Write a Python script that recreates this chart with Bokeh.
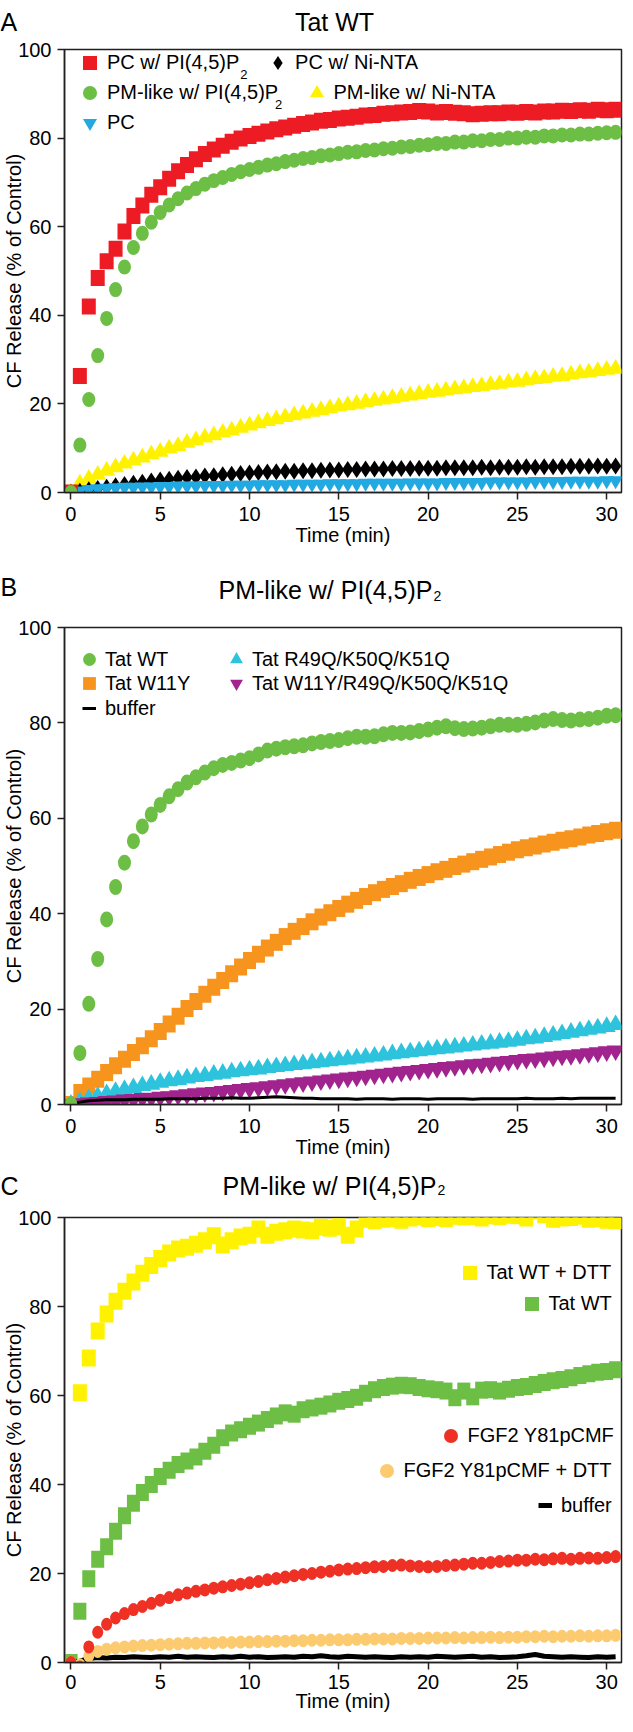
import math
from bokeh.plotting import figure
from bokeh.layouts import column
from bokeh.models import Range1d, FixedTicker, Label, Legend, LegendItem
from bokeh.core.properties import value
from bokeh.embed import file_html
from bokeh.resources import INLINE

# ---------------- data ----------------
time_min = [0.0, 0.5, 1.0, 1.5, 2.0, 2.5, 3.0, 3.5, 4.0, 4.5,
            5.0, 5.5, 6.0, 6.5, 7.0, 7.5, 8.0, 8.5, 9.0, 9.5,
            10.0, 10.5, 11.0, 11.5, 12.0, 12.5, 13.0, 13.5, 14.0, 14.5,
            15.0, 15.5, 16.0, 16.5, 17.0, 17.5, 18.0, 18.5, 19.0, 19.5,
            20.0, 20.5, 21.0, 21.5, 22.0, 22.5, 23.0, 23.5, 24.0, 24.5,
            25.0, 25.5, 26.0, 26.5, 27.0, 27.5, 28.0, 28.5, 29.0, 29.5,
            30.0, 30.5]

# Panel A: Tat WT
a_pc_pip2 = [0, 26.3, 42.0, 48.4, 52.2, 55.0, 58.9, 62.4, 64.8, 67.2,
             68.9, 70.8, 72.5, 73.9, 75.2, 76.4, 77.4, 78.3, 79.2, 79.9,
             80.5, 81.0, 81.5, 82.0, 82.4, 82.8, 83.2, 83.5, 83.9, 84.1,
             84.4, 84.6, 84.8, 85.1, 85.2, 85.5, 85.6, 85.8, 85.9, 86.1,
             86.0, 85.8, 85.9, 85.7, 85.6, 85.4, 85.5, 85.6, 85.6, 85.8,
             85.7, 85.9, 85.8, 86.0, 86.0, 86.2, 86.1, 86.3, 86.2, 86.4,
             86.3, 86.4]
a_pm_pip2 = [0, 10.7, 21.0, 30.9, 39.3, 45.8, 50.9, 55.3, 58.5, 61.0,
             63.2, 64.9, 66.3, 67.6, 68.6, 69.6, 70.4, 71.1, 71.8, 72.4,
             72.9, 73.4, 73.9, 74.2, 74.7, 75.0, 75.4, 75.6, 76.0, 76.2,
             76.5, 76.8, 76.9, 77.2, 77.3, 77.6, 77.7, 78.0, 78.1, 78.4,
             78.5, 78.8, 78.8, 79.1, 79.1, 79.4, 79.4, 79.7, 79.7, 80.0,
             80.0, 80.2, 80.2, 80.5, 80.5, 80.7, 80.7, 80.9, 80.9, 81.1,
             81.2, 81.3]
a_pm_ninta = [0, 2.0, 3.1, 4.0, 4.9, 5.7, 6.5, 7.2, 7.9, 8.6,
              9.2, 9.9, 10.5, 11.2, 11.8, 12.4, 12.9, 13.5, 14.0, 14.6,
              15.1, 15.6, 16.1, 16.5, 17.0, 17.4, 17.8, 18.2, 18.6, 19.0,
              19.4, 19.7, 20.0, 20.4, 20.7, 21.0, 21.3, 21.6, 21.9, 22.2,
              22.5, 22.7, 23.0, 23.3, 23.5, 23.8, 24.0, 24.3, 24.5, 24.8,
              25.0, 25.3, 25.6, 25.8, 26.1, 26.3, 26.6, 26.9, 27.1, 27.4,
              27.7, 27.9]
a_pc_ninta = [0, 0.3, 0.6, 0.9, 1.2, 1.5, 1.8, 2.1, 2.3, 2.6,
              2.8, 3.0, 3.2, 3.4, 3.5, 3.7, 3.8, 4.0, 4.1, 4.3,
              4.4, 4.5, 4.6, 4.7, 4.8, 4.8, 4.9, 4.9, 5.0, 5.1,
              5.1, 5.2, 5.2, 5.3, 5.3, 5.3, 5.4, 5.4, 5.4, 5.5,
              5.5, 5.5, 5.6, 5.6, 5.6, 5.6, 5.7, 5.6, 5.7, 5.7,
              5.7, 5.8, 5.7, 5.8, 5.8, 5.8, 5.9, 5.9, 5.9, 6.0,
              5.9, 6.0]
a_pc = [0, 0.4, 0.7, 0.9, 1.0, 1.1, 1.2, 1.2, 1.3, 1.3,
        1.4, 1.4, 1.5, 1.5, 1.5, 1.6, 1.6, 1.6, 1.7, 1.7,
        1.7, 1.8, 1.8, 1.8, 1.8, 1.9, 1.9, 1.9, 1.9, 2.0,
        2.0, 2.0, 2.0, 2.1, 2.1, 2.1, 2.1, 2.1, 2.2, 2.2,
        2.2, 2.2, 2.3, 2.3, 2.3, 2.3, 2.3, 2.4, 2.4, 2.4,
        2.4, 2.4, 2.5, 2.5, 2.5, 2.5, 2.6, 2.6, 2.6, 2.6,
        2.7, 2.7]

# Panel B: PM-like w/ PI(4,5)P2
b_wt = [0, 10.8, 21.1, 30.5, 38.8, 45.6, 50.7, 55.2, 58.3, 60.8,
        62.8, 64.6, 66.1, 67.5, 68.6, 69.6, 70.5, 71.2, 71.6, 72.1,
        72.6, 73.4, 74.2, 74.6, 74.9, 75.1, 75.3, 75.7, 76.0, 76.2,
        76.4, 76.8, 77.1, 77.1, 77.2, 77.6, 77.9, 77.9, 78.0, 78.3,
        78.6, 79.0, 79.3, 78.9, 78.7, 78.8, 79.0, 79.3, 79.6, 79.6,
        79.6, 79.8, 80.1, 80.5, 80.8, 80.6, 80.5, 80.7, 80.8, 81.1,
        81.5, 81.6]
b_w11y = [0, 2.5, 3.9, 5.3, 6.7, 8.1, 9.5, 10.9, 12.3, 13.8,
          15.3, 16.9, 18.5, 20.1, 21.6, 23.1, 24.6, 26.0, 27.4, 28.8,
          30.2, 31.5, 32.8, 34.0, 35.2, 36.3, 37.3, 38.3, 39.3, 40.2,
          41.1, 42.0, 42.8, 43.6, 44.4, 45.1, 45.7, 46.3, 47.0, 47.6,
          48.2, 48.8, 49.3, 49.9, 50.4, 50.9, 51.4, 51.9, 52.4, 52.9,
          53.4, 53.8, 54.2, 54.6, 55.0, 55.4, 55.7, 56.1, 56.5, 56.8,
          57.2, 57.5]
b_rkk = [0, 0.6, 1.2, 1.7, 2.2, 2.7, 3.1, 3.5, 3.9, 4.2,
         4.6, 4.9, 5.2, 5.5, 5.8, 6.0, 6.3, 6.5, 6.8, 7.0,
         7.2, 7.4, 7.7, 7.9, 8.1, 8.3, 8.5, 8.7, 8.9, 9.1,
         9.3, 9.5, 9.7, 9.9, 10.1, 10.3, 10.6, 10.8, 11.0, 11.2,
         11.4, 11.6, 11.8, 12.0, 12.2, 12.4, 12.6, 12.8, 13.0, 13.2,
         13.4, 13.7, 13.9, 14.2, 14.5, 14.8, 15.1, 15.4, 15.7, 16.0,
         16.3, 16.7]
b_w11y_rkk = [0, 0.2, 0.4, 0.5, 0.7, 0.8, 1.0, 1.1, 1.3, 1.4,
              1.6, 1.7, 1.9, 2.1, 2.3, 2.5, 2.6, 2.8, 3.0, 3.2,
              3.4, 3.6, 3.8, 4.0, 4.2, 4.4, 4.6, 4.8, 5.0, 5.2,
              5.4, 5.6, 5.8, 6.0, 6.2, 6.4, 6.6, 6.8, 7.0, 7.2,
              7.4, 7.6, 7.8, 8.0, 8.2, 8.4, 8.5, 8.7, 8.9, 9.1,
              9.3, 9.5, 9.6, 9.8, 10.0, 10.2, 10.3, 10.5, 10.7, 10.9,
              11.1, 11.3]
b_buffer = [0, 0.5, 0.8, 0.9, 1.0, 1.0, 1.0, 1.1, 1.1, 1.1,
            1.1, 1.2, 1.2, 1.2, 1.2, 1.3, 1.3, 1.3, 1.4, 1.3,
            1.3, 1.4, 1.5, 1.6, 1.5, 1.4, 1.3, 1.3, 1.2, 1.2,
            1.2, 1.2, 1.1, 1.2, 1.2, 1.2, 1.1, 1.2, 1.2, 1.2,
            1.1, 1.2, 1.2, 1.2, 1.2, 1.1, 1.2, 1.2, 1.2, 1.2,
            1.2, 1.3, 1.2, 1.2, 1.2, 1.3, 1.2, 1.3, 1.3, 1.3,
            1.3, 1.3]

# Panel C: PM-like w/ PI(4,5)P2
c_wt_dtt = [0, 60.6, 68.4, 74.5, 78.3, 81.2, 83.4, 85.5, 87.5, 89.2,
            90.8, 92.0, 92.9, 93.3, 94.0, 94.8, 95.9, 93.8, 94.8, 95.6,
            96.0, 97.4, 96.0, 96.7, 97.0, 97.4, 97.2, 97.0, 97.8, 97.6,
            97.9, 96.0, 97.4, 99.6, 99.3, 99.6, 99.8, 99.4, 99.9, 100.1,
            99.7, 100.0, 99.8, 100.3, 100.1, 100.2, 99.9, 100.4, 100.2, 100.5,
            100.4, 99.9, 101.5, 100.6, 99.6, 99.9, 100.0, 100.3, 99.6, 99.8,
            99.4, 99.3]
c_wt = [0, 11.5, 18.8, 23.2, 26.0, 29.5, 33.0, 35.8, 38.2, 40.0,
        41.8, 43.2, 44.5, 45.3, 46.2, 47.5, 48.8, 50.5, 51.6, 52.3,
        53.1, 53.8, 54.6, 55.4, 56.1, 55.8, 56.8, 57.2, 57.6, 58.1,
        58.7, 59.1, 59.6, 60.5, 61.3, 61.8, 62.1, 62.3, 62.2, 61.8,
        61.5, 61.3, 61.0, 59.5, 61.0, 59.7, 61.2, 61.3, 61.0, 61.4,
        61.8, 62.0, 62.5, 62.9, 63.3, 63.6, 64.0, 64.5, 64.9, 65.2,
        65.4, 65.8]
c_fgf2 = [0, -1.0, 3.5, 6.8, 8.6, 10.0, 11.0, 11.9, 12.6, 13.3,
          14.0, 14.6, 15.2, 15.6, 16.0, 16.3, 16.7, 17.0, 17.3, 17.6,
          17.9, 18.2, 18.6, 18.9, 19.2, 19.5, 19.8, 20.0, 20.3, 20.5,
          20.8, 21.0, 21.1, 21.3, 21.5, 21.6, 21.8, 21.9, 21.7, 21.6,
          21.5, 21.6, 21.8, 21.9, 22.1, 22.3, 22.3, 22.5, 22.7, 22.8,
          23.0, 23.0, 23.2, 23.1, 23.3, 23.4, 23.2, 23.4, 23.5, 23.4,
          23.6, 23.8]
c_fgf2_dtt = [0, -0.5, 1.5, 2.5, 3.0, 3.3, 3.5, 3.7, 3.8, 3.9,
              4.0, 4.1, 4.2, 4.3, 4.3, 4.4, 4.4, 4.5, 4.5, 4.6,
              4.6, 4.7, 4.7, 4.8, 4.8, 4.9, 4.9, 5.0, 5.0, 5.1,
              5.1, 5.1, 5.2, 5.2, 5.3, 5.3, 5.3, 5.4, 5.4, 5.4,
              5.5, 5.5, 5.5, 5.6, 5.5, 5.6, 5.6, 5.7, 5.6, 5.7,
              5.7, 5.8, 5.8, 5.9, 5.8, 5.9, 5.9, 6.0, 5.9, 6.0,
              6.0, 6.1]
c_buffer = [0, 0.3, 0.9, 1.1, 1.0, 1.2, 1.1, 1.3, 1.2, 1.1,
            1.3, 1.2, 1.4, 1.2, 1.3, 1.2, 1.1, 1.3, 1.2, 1.4,
            1.2, 1.3, 1.1, 1.2, 1.3, 1.2, 1.4, 1.3, 1.5, 1.3,
            1.2, 1.4, 1.3, 1.2, 1.3, 1.2, 1.1, 1.3, 1.2, 1.3,
            1.2, 1.4, 1.3, 1.2, 1.3, 1.4, 1.2, 1.3, 1.1, 1.2,
            1.3, 1.5, 1.8, 1.4, 1.3, 1.2, 1.3, 1.2, 1.1, 1.3,
            1.2, 1.3]

x_ticks = [0, 5, 10, 15, 20, 25, 30]
y_ticks = [0, 20, 40, 60, 80, 100]
x_label = "Time (min)"
y_label = "CF Release (% of Control)"

# ---------------- styling / layout ----------------
FONT = "Liberation Sans"
AXIS = "#231F20"
FW = 625
FL = 60          # frame offset inside each figure
PX0 = 8          # page margin
RED, GREEN, YELLOW = "#ED1C24", "#6CBE45", "#FFF200"
BLUE, ORANGE, CYAN, PURPLE = "#22A9E1", "#F7941D", "#2EC3DC", "#A0238E"
RED_C, LORANGE = "#EE3124", "#FCCB70"


def make_strip(page_top, page_bottom):
    h = page_bottom - page_top
    s = figure(width=FW, height=h, x_range=Range1d(0, FW), y_range=Range1d(0, h),
               toolbar_location=None, tools="", output_backend="svg", title=None,
               x_axis_location=None, y_axis_location=None, frame_align=False,
               min_border=0, min_border_left=0, min_border_right=0,
               min_border_top=0, min_border_bottom=0, outline_line_color=None,
               background_fill_color="white", border_fill_color="white")
    s.grid.visible = False
    return (s, page_bottom)


def strip_text(strip, texts, pxs, pys, size, align="left"):
    s, pbottom = strip
    s.text(x=[px - PX0 for px in pxs], y=[pbottom - py for py in pys], text=texts,
           text_font=value(FONT), text_font_size=value(size), text_align=align,
           text_baseline="alphabetic", text_color="black")


def make_panel(page_top, frame_top, frame_bottom, page_bottom, label_standoff=7,
               title_standoff=0):
    top = frame_top - page_top
    bottom = page_bottom - frame_bottom
    p = figure(width=FW, height=page_bottom - page_top, x_range=Range1d(-0.36, 30.83),
               y_range=Range1d(0, 100), toolbar_location=None, tools="",
               output_backend="svg", title=None, frame_align=False,
               min_border_left=FL, min_border_right=4,
               min_border_top=top, min_border_bottom=bottom,
               background_fill_color="white", border_fill_color="white")
    p.grid.visible = False
    p.outline_line_color = AXIS
    p.outline_line_width = 1.5
    for ax in (p.xaxis[0], p.yaxis[0]):
        ax.axis_line_color = AXIS
        ax.axis_line_width = 1.5
        ax.major_tick_line_color = AXIS
        ax.major_tick_line_width = 1.5
        ax.major_tick_in = 0
        ax.major_tick_out = 7
        ax.minor_tick_line_color = None
        ax.major_label_text_font = FONT
        ax.major_label_text_font_size = "20px"
        ax.major_label_text_color = "black"
        ax.axis_label_text_font = FONT
        ax.axis_label_text_font_size = "20px"
        ax.axis_label_text_font_style = "normal"
        ax.axis_label_text_color = "black"
    p.xaxis.ticker = FixedTicker(ticks=x_ticks)
    p.yaxis.ticker = FixedTicker(ticks=y_ticks)
    p.xaxis.major_label_standoff = label_standoff
    p.yaxis.major_label_standoff = 6
    p.xaxis.axis_label = x_label
    p.xaxis.axis_label_standoff = title_standoff
    p.yaxis.axis_label = y_label
    p.yaxis.axis_label_standoff = -10
    fh = frame_bottom - frame_top
    return (p, fh, frame_top)


def add_text(panel, text, px, py, size, align="left"):
    p, fh, ftop = panel
    p.add_layout(Label(x=px - (PX0 + FL), y=fh - (py - ftop), x_units="screen",
                       y_units="screen", text=text, text_font=FONT,
                       text_font_size=size, text_align=align,
                       text_baseline="alphabetic", text_color="black"))


def add_key(panel, renderer, text, mx, my, tx, gw=35, gh=35, size="20px"):
    p, fh, ftop = panel
    left = mx - gw / 2 - (PX0 + FL)
    bottom = fh - (my - ftop) - gh / 2
    leg = Legend(items=[LegendItem(label=text, renderers=[renderer])],
                 location=(left, bottom), orientation="vertical",
                 glyph_width=gw, glyph_height=gh, label_height=gh,
                 label_width=10, label_standoff=int(round(tx - mx - gw / 2)),
                 padding=0, margin=0, spacing=0, border_line_color=None,
                 background_fill_alpha=0, label_text_font=FONT,
                 label_text_font_size=size, label_text_color="black")
    p.add_layout(leg)


def key_glyph(p, marker, color):
    return p.scatter(x=[math.nan], y=[math.nan], marker=marker, size=1,
                     fill_color=color, line_color=None)


def rects(p, ys, color, w=13, h=16):
    return p.rect(x=time_min, y=ys, width=w, height=h, width_units="screen",
                  height_units="screen", fill_color=color, line_color=None)


def ellipses(p, ys, color, w=13, h=15):
    return p.ellipse(x=time_min, y=ys, width=w, height=h, width_units="screen",
                     height_units="screen", fill_color=color, line_color=None)


def markers(p, ys, marker, color, size):
    return p.scatter(x=time_min, y=ys, marker=marker, size=size,
                     fill_color=color, line_color=None)


# ---------------- Panel A ----------------
SA = make_strip(8, 45)
strip_text(SA, ["A"], [8], [29], "25px")
strip_text(SA, ["Tat WT"], [342], [29], "25px", align="center")

A = make_panel(45, 57, 500, 566)
pa = A[0]
markers(pa, a_pm_ninta, "triangle", YELLOW, 17)
markers(pa, a_pc_ninta, "diamond", "black", 17)
markers(pa, a_pc, "inverted_triangle", BLUE, 15)
rects(pa, a_pc_pip2, RED, 14, 16)
ellipses(pa, a_pm_pip2, GREEN)
add_key(A, key_glyph(pa, "square", RED), "PC w/ PI(4,5)P", 93.5, 70, 107)
add_text(A, "2", 107 + 136.8, 82, "13px")
add_key(A, key_glyph(pa, "diamond", "black"), "PC w/ Ni-NTA", 281.6, 70, 294)
add_key(A, key_glyph(pa, "circle", GREEN), "PM-like w/ PI(4,5)P", 93.5, 100, 107)
add_text(A, "2", 107 + 171.6, 112, "13px")
add_key(A, key_glyph(pa, "triangle", YELLOW), "PM-like w/ Ni-NTA", 320, 100, 335)
add_key(A, key_glyph(pa, "inverted_triangle", BLUE), "PC", 93.5, 130, 107)

# ---------------- Panel B ----------------
SB = make_strip(566, 621)
strip_text(SB, ["B"], [8], [594], "25px")
strip_text(SB, ["PM-like w/ PI(4,5)P"], [226], [597], "25px")
strip_text(SB, ["2"], [226 + 215], [603], "14px")

B = make_panel(621, 635, 1112, 1173)
pb = B[0]
rects(pb, b_w11y, ORANGE, 13, 17)
markers(pb, b_rkk, "triangle", CYAN, 18)
markers(pb, b_w11y_rkk, "inverted_triangle", PURPLE, 18)
buf_b = pb.line(x=time_min, y=b_buffer, line_color="black", line_width=3)
ellipses(pb, b_wt, GREEN, 13, 16)
add_key(B, key_glyph(pb, "circle", GREEN), "Tat WT", 93, 667, 109, 32, 32)
add_key(B, key_glyph(pb, "square", ORANGE), "Tat W11Y", 93, 691, 109, 32, 32)
add_key(B, buf_b, "buffer", 93, 716, 109, 14, 26)
add_key(B, key_glyph(pb, "triangle", CYAN), "Tat R49Q/K50Q/K51Q", 240, 667, 254, 32, 32)
add_key(B, key_glyph(pb, "inverted_triangle", PURPLE), "Tat W11Y/R49Q/K50Q/K51Q",
        240, 691, 254, 32, 32)

# ---------------- Panel C ----------------
SC = make_strip(1173, 1213)
strip_text(SC, ["C"], [8], [1193], "25px")
strip_text(SC, ["PM-like w/ PI(4,5)P"], [230], [1193], "25px")
strip_text(SC, ["2"], [230 + 215], [1197], "14px")

C = make_panel(1213, 1225, 1670, 1729, label_standoff=5, title_standoff=-2)
pc = C[0]
rects(pc, c_wt_dtt, YELLOW, 14, 17)
rects(pc, c_wt, GREEN, 13, 17)
buf_c = pc.line(x=time_min, y=c_buffer, line_color="black", line_width=5)
ellipses(pc, c_fgf2_dtt, LORANGE, 11, 13)
ellipses(pc, c_fgf2, RED_C, 11, 13)
add_key(C, key_glyph(pc, "square", YELLOW), "Tat WT + DTT", 473, 1280, 489)
add_key(C, key_glyph(pc, "square", GREEN), "Tat WT", 535, 1311, 550)
add_key(C, key_glyph(pc, "circle", RED_C), "FGF2 Y81pCMF", 454, 1443, 469)
add_key(C, key_glyph(pc, "circle", LORANGE), "FGF2 Y81pCMF + DTT", 390, 1478, 406)
add_key(C, buf_c, "buffer", 549, 1513, 565, 14, 26)

layout = column(SA[0], pa, SB[0], pb, SC[0], pc, spacing=0)
open("out.html", "w").write(file_html(layout, INLINE))
